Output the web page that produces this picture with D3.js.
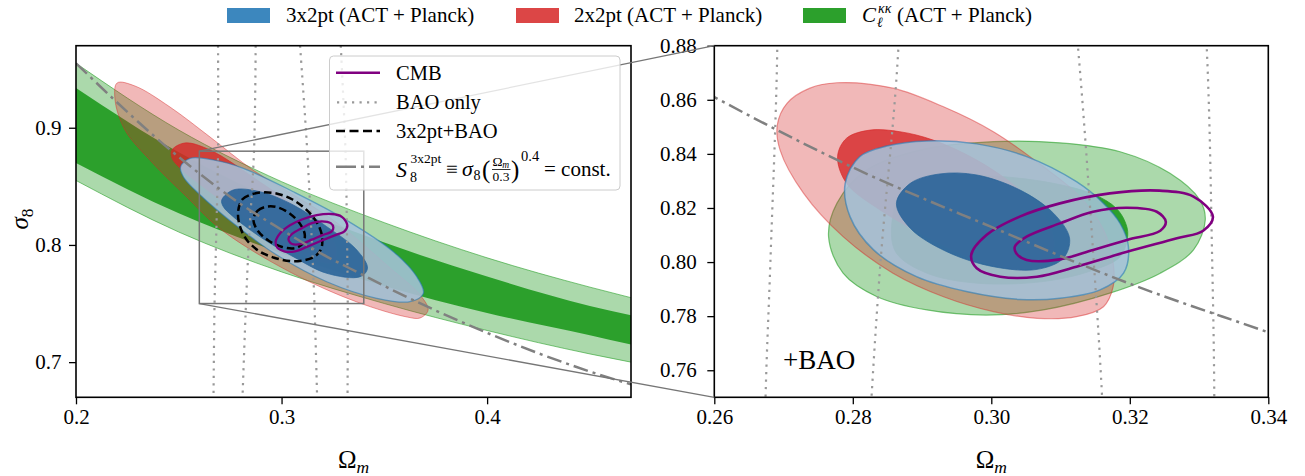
<!DOCTYPE html>
<html><head><meta charset="utf-8">
<script src="https://cdn.jsdelivr.net/npm/d3@7"></script>
<style>
body{margin:0;background:#fff;}
svg text{font-family:"Liberation Serif","Times New Roman","DejaVu Serif",serif !important;}
</style>
</head><body>
<svg id="chart" width="1305" height="476"></svg>
<script>
// ---------------- DATA ----------------
const leftOmDomain = [0.2, 0.47];
const leftSigDomain = [0.67, 0.97];
const insetOmDomain = [0.26, 0.34];
const insetSigDomain = [0.75, 0.88];

const leftXTicks = [0.2, 0.3, 0.4];
const leftYTicks = [0.7, 0.8, 0.9];
const rightXTicks = [0.26, 0.28, 0.30, 0.32, 0.34];
const rightYTicks = [0.76, 0.78, 0.80, 0.82, 0.84, 0.86, 0.88];

const topLegendLabels = ["3x2pt (ACT + Planck)", "2x2pt (ACT + Planck)", "(ACT + Planck)"];
const innerLegendLabels = ["CMB", "BAO only", "3x2pt+BAO", "= const."];

// C_ell^kk (lensing only) band, left panel
const ckkBandOm   = [0.20, 0.25, 0.30, 0.35, 0.40, 0.45, 0.47];
const ckk95Upper  = [0.955, 0.898, 0.854, 0.819, 0.789, 0.764, 0.755];
const ckk68Upper  = [0.934, 0.879, 0.836, 0.802, 0.773, 0.748, 0.740];
const ckk68Lower  = [0.870, 0.827, 0.793, 0.765, 0.742, 0.723, 0.715];
const ckk95Lower  = [0.855, 0.811, 0.777, 0.750, 0.727, 0.707, 0.700];

// 2x2pt (no BAO), left panel  [Omega_m, sigma_8]
const twoPt95 = [[0.2200,0.9382],[0.2287,0.9356],[0.2457,0.9177],[0.2652,0.8921],[0.2861,0.8639],[0.3066,0.8418],[0.3251,0.8213],[0.3528,0.7803],[0.3674,0.7573],[0.3713,0.7445],[0.3674,0.7377],[0.3611,0.7385],[0.3367,0.7513],[0.3041,0.7769],[0.2710,0.8126],[0.2530,0.8425],[0.2360,0.8723],[0.2238,0.8981],[0.2190,0.9237]];
const twoPt68 = [[0.2467,0.8810],[0.2530,0.8870],[0.2652,0.8810],[0.2895,0.8537],[0.3139,0.8233],[0.3260,0.8003],[0.3251,0.7855],[0.3139,0.7889],[0.2895,0.8145],[0.2652,0.8452],[0.2506,0.8656],[0.2467,0.8742]];

// 3x2pt (no BAO), left panel
const threePt95 = [[0.2509,0.8668],[0.2555,0.8739],[0.2668,0.8725],[0.2814,0.8654],[0.3057,0.8454],[0.3301,0.8227],[0.3544,0.7942],[0.3658,0.7729],[0.3690,0.7587],[0.3625,0.7516],[0.3463,0.7545],[0.3220,0.7686],[0.2977,0.7914],[0.2765,0.8185],[0.2603,0.8428],[0.2522,0.8582]];
const threePt68 = [[0.2709,0.8383],[0.2765,0.8469],[0.2895,0.8454],[0.3057,0.8341],[0.3220,0.8156],[0.3366,0.7957],[0.3418,0.7801],[0.3382,0.7729],[0.3220,0.7758],[0.3057,0.7900],[0.2895,0.8070],[0.2765,0.8241],[0.2717,0.8326]];

// +BAO contours (right panel; 3x2pt+BAO also dashed in left panel)
const threePtBAO95 = [[0.2789,0.8291],[0.2810,0.8390],[0.2849,0.8429],[0.2907,0.8448],[0.2979,0.8437],[0.3051,0.8390],[0.3123,0.8297],[0.3162,0.8217],[0.3186,0.8143],[0.3198,0.8057],[0.3191,0.7959],[0.3157,0.7897],[0.3099,0.7866],[0.3041,0.7862],[0.2964,0.7891],[0.2892,0.7946],[0.2830,0.8045],[0.2796,0.8168]];
const threePtBAO68 = [[0.2863,0.8217],[0.2883,0.8291],[0.2926,0.8326],[0.2979,0.8322],[0.3041,0.8267],[0.3090,0.8180],[0.3113,0.8088],[0.3104,0.8014],[0.3066,0.7973],[0.3003,0.7983],[0.2936,0.8038],[0.2883,0.8125]];
const twoPtBAO95 = [[0.2777,0.8663],[0.2858,0.8643],[0.2931,0.8574],[0.3003,0.8482],[0.3075,0.8353],[0.3128,0.8242],[0.3162,0.8119],[0.3176,0.7996],[0.3176,0.7909],[0.3162,0.7835],[0.3123,0.7798],[0.3066,0.7792],[0.3003,0.7817],[0.2931,0.7872],[0.2858,0.7959],[0.2786,0.8094],[0.2729,0.8254],[0.2695,0.8414],[0.2691,0.8507],[0.2705,0.8587],[0.2738,0.8643]];
const twoPtBAO68 = [[0.2778,0.8390],[0.2791,0.8458],[0.2825,0.8488],[0.2868,0.8482],[0.2916,0.8451],[0.2979,0.8377],[0.3041,0.8267],[0.3080,0.8156],[0.3090,0.8057],[0.3075,0.7983],[0.3037,0.7971],[0.2979,0.8008],[0.2907,0.8094],[0.2839,0.8193],[0.2791,0.8291]];
const ckkBAO95 = [[0.2765,0.8094],[0.2777,0.8217],[0.2820,0.8340],[0.2897,0.8414],[0.3003,0.8445],[0.3099,0.8441],[0.3186,0.8408],[0.3258,0.8328],[0.3301,0.8230],[0.3309,0.8156],[0.3292,0.8045],[0.3244,0.7959],[0.3171,0.7885],[0.3075,0.7823],[0.2993,0.7804],[0.2907,0.7823],[0.2835,0.7872],[0.2786,0.7959]];
const ckkBAO68 = [[0.2856,0.8131],[0.2873,0.8267],[0.2931,0.8316],[0.3003,0.8318],[0.3090,0.8291],[0.3150,0.8248],[0.3180,0.8200],[0.3193,0.8150],[0.3197,0.8100],[0.3186,0.8020],[0.3147,0.7970],[0.3075,0.7928],[0.2979,0.7922],[0.2907,0.7959],[0.2863,0.8033]];

// CMB contours
const cmb95 = [[0.2971,0.8026],[0.2993,0.8100],[0.3041,0.8168],[0.3099,0.8217],[0.3171,0.8254],[0.3243,0.8264],[0.3292,0.8242],[0.3320,0.8168],[0.3306,0.8116],[0.3268,0.8088],[0.3196,0.8038],[0.3123,0.7983],[0.3066,0.7946],[0.3013,0.7946],[0.2979,0.7977]];
const cmb68 = [[0.3034,0.8057],[0.3051,0.8094],[0.3099,0.8143],[0.3147,0.8186],[0.3196,0.8201],[0.3239,0.8186],[0.3252,0.8149],[0.3244,0.8116],[0.3196,0.8082],[0.3147,0.8045],[0.3099,0.8010],[0.3051,0.8008],[0.3036,0.8033]];

// BAO-only contour edges: Omega_m at each sigma_8
const baoSigma = [0.97, 0.88, 0.80, 0.75, 0.67];
const baoOuterLeft  = [0.2691, 0.2691, 0.2681, 0.2674, 0.2669];
const baoInnerLeft  = [0.2874, 0.2866, 0.2840, 0.2827, 0.2810];
const baoInnerRight = [0.3090, 0.3125, 0.3148, 0.3160, 0.3173];
const baoOuterRight = [0.3288, 0.3311, 0.3319, 0.3322, 0.3321];

// S8 = const line
const s8Om  = [0.20, 0.25, 0.26, 0.28, 0.30, 0.32, 0.34, 0.35, 0.40, 0.45, 0.47];
const s8Sig = [0.955, 0.875, 0.861, 0.835, 0.813, 0.792, 0.774, 0.765, 0.725, 0.692, 0.681];

// ---------------- STYLE ----------------
const C = {
  blue:"#1f77b4", red:"#d62728", green:"#2ca02c", purple:"#800080",
  blueLight:"#a5c1d9", blueDark:"#2a6499",
  legBlue:"#3c87be", legRed:"#dc4646", legGreen:"#2ca02c",
  gray:"#808080", bao:"#999999"
};
const FONT = "Liberation Serif, Times New Roman, DejaVu Serif, serif";
const BAO_DASH = "2.2,5.3";

const svg = d3.select("#chart");
const defs = svg.append("defs");

const xL = d3.scaleLinear().domain(leftOmDomain).range([76, 631]);
const yL = d3.scaleLinear().domain(leftSigDomain).range([397.3, 45.7]);
const xR = d3.scaleLinear().domain(insetOmDomain).range([714.3, 1268.3]);
const yR = d3.scaleLinear().domain(insetSigDomain).range([397.3, 45.7]);

function clip(id, x, y) {
  defs.append("clipPath").attr("id", id).append("rect")
    .attr("x", x.range()[0]).attr("y", y.range()[1])
    .attr("width", x.range()[1]-x.range()[0]).attr("height", y.range()[0]-y.range()[1]);
}
clip("clipL", xL, yL); clip("clipR", xR, yR);

const closedLine = (x, y) => d3.line().x(d => x(d[0])).y(d => y(d[1])).curve(d3.curveCatmullRomClosed.alpha(0.5));

function contour(g, x, y, pts, fill, fop, stroke, sop, sw) {
  g.append("path").attr("d", closedLine(x, y)(pts))
    .attr("fill", fill).attr("fill-opacity", fop)
    .attr("stroke", stroke).attr("stroke-opacity", sop).attr("stroke-width", sw);
}
function lineOnly(g, x, y, pts, stroke, sw, dash) {
  g.append("path").attr("d", closedLine(x, y)(pts))
    .attr("fill", "none").attr("stroke", stroke).attr("stroke-width", sw)
    .attr("stroke-dasharray", dash || null);
}
function baoLines(g, x, y) {
  [baoOuterLeft, baoInnerLeft, baoInnerRight, baoOuterRight].forEach(arr => {
    const pts = arr.map((om, i) => [om, baoSigma[i]]);
    g.append("path").attr("d", d3.line().x(d => x(d[0])).y(d => y(d[1])).curve(d3.curveCatmullRom)(pts))
      .attr("fill", "none").attr("stroke", C.bao).attr("stroke-width", 2.2)
      .attr("stroke-dasharray", BAO_DASH);
  });
}
function s8Line(g, x, y) {
  const pts = s8Om.map((om, i) => [om, s8Sig[i]]);
  g.append("path").attr("d", d3.line().x(d => x(d[0])).y(d => y(d[1])).curve(d3.curveMonotoneX)(pts))
    .attr("fill", "none").attr("stroke", C.gray).attr("stroke-width", 2.5)
    .attr("stroke-dasharray", "15,5,3,5");
}

// ---------------- LEFT PANEL ----------------
const gL = svg.append("g").attr("clip-path", "url(#clipL)");
const bandArea = (lo, hi) => d3.area().x((d, i) => xL(ckkBandOm[i])).y0((d, i) => yL(lo[i])).y1((d, i) => yL(hi[i])).curve(d3.curveMonotoneX)(ckkBandOm);
const edge = arr => d3.line().x((d, i) => xL(ckkBandOm[i])).y((d, i) => yL(arr[i])).curve(d3.curveMonotoneX)(ckkBandOm);
gL.append("path").attr("d", bandArea(ckk95Lower, ckk95Upper)).attr("fill", C.green).attr("fill-opacity", 0.4);
[ckk95Lower, ckk95Upper].forEach(a => gL.append("path").attr("d", edge(a)).attr("fill", "none").attr("stroke", C.green).attr("stroke-opacity", 0.6).attr("stroke-width", 1));
gL.append("path").attr("d", bandArea(ckk68Lower, ckk68Upper)).attr("fill", C.green).attr("fill-opacity", 1);

contour(gL, xL, yL, twoPt95, C.red, 0.33, C.red, 0.45, 1);
contour(gL, xL, yL, twoPt68, C.red, 0.8, C.red, 0.8, 0.8);
contour(gL, xL, yL, threePt95, C.blueLight, 0.88, C.blue, 0.55, 1.3);
contour(gL, xL, yL, threePt68, C.blueDark, 0.9, C.blueDark, 0.9, 0.8);
baoLines(gL, xL, yL);
lineOnly(gL, xL, yL, threePtBAO95, "#000", 2.5, "7.5,4");
lineOnly(gL, xL, yL, threePtBAO68, "#000", 2.5, "7.5,4");
lineOnly(gL, xL, yL, cmb95, C.purple, 2.3);
lineOnly(gL, xL, yL, cmb68, C.purple, 2.3);
s8Line(gL, xL, yL);

// ---------------- RIGHT PANEL ----------------
const gR = svg.append("g").attr("clip-path", "url(#clipR)");
contour(gR, xR, yR, ckkBAO95, C.green, 0.4, C.green, 0.6, 1.2);
contour(gR, xR, yR, ckkBAO68, C.green, 1, C.green, 1, 0.8);
contour(gR, xR, yR, twoPtBAO95, C.red, 0.33, C.red, 0.45, 1.2);
contour(gR, xR, yR, twoPtBAO68, C.red, 0.8, C.red, 0.8, 0.8);
contour(gR, xR, yR, threePtBAO95, C.blueLight, 0.88, C.blue, 0.55, 1.5);
contour(gR, xR, yR, threePtBAO68, C.blueDark, 0.9, C.blueDark, 0.9, 0.8);
baoLines(gR, xR, yR);
lineOnly(gR, xR, yR, cmb95, C.purple, 2.6);
lineOnly(gR, xR, yR, cmb68, C.purple, 2.6);
s8Line(gR, xR, yR);

gR.append("text").attr("x", 783).attr("y", 369).attr("font-size", 27).attr("font-family", FONT).text("+BAO");

// ---------------- AXES ----------------
function axes(x, y, xt, yt, fmt, ypad) {
  const g = svg.append("g");
  const ax = g.append("g").attr("transform", `translate(0,${y.range()[0]})`)
    .call(d3.axisBottom(x).tickValues(xt).tickFormat(d3.format(fmt)).tickSize(7).tickPadding(5));
  const ay = g.append("g").attr("transform", `translate(${x.range()[0]},0)`)
    .call(d3.axisLeft(y).tickValues(yt).tickFormat(d3.format(fmt)).tickSize(7).tickPadding(ypad));
  [ax, ay].forEach(a => {
    a.select(".domain").remove();
    a.attr("font-size", 21).attr("font-family", FONT);
    a.selectAll("line").attr("stroke", "#000").attr("stroke-width", 1.3);
    a.selectAll("text").attr("fill", "#000");
  });
  g.append("rect").attr("x", x.range()[0]).attr("y", y.range()[1])
    .attr("width", x.range()[1]-x.range()[0]).attr("height", y.range()[0]-y.range()[1])
    .attr("fill", "none").attr("stroke", "#000").attr("stroke-width", 1.6);
}
axes(xL, yL, leftXTicks, leftYTicks, ".1f", 7.5);
axes(xR, yR, rightXTicks, rightYTicks, ".2f", 10.5);

// axis labels
function omLabel(cx) {
  const t = svg.append("text").attr("x", cx).attr("y", 468).attr("text-anchor", "middle")
    .attr("font-family", FONT).attr("font-size", 25);
  t.append("tspan").text("Ω");
  t.append("tspan").attr("font-style", "italic").attr("font-size", 17.5).attr("dy", 5).text("m");
}
omLabel((xL.range()[0]+xL.range()[1])/2);
omLabel((xR.range()[0]+xR.range()[1])/2);
{
  const t = svg.append("text").attr("transform", "translate(28,219) rotate(-90)").attr("text-anchor", "middle")
    .attr("font-family", FONT).attr("font-size", 25);
  t.append("tspan").attr("font-style", "italic").text("σ");
  t.append("tspan").attr("font-size", 17.5).attr("dy", 5).text("8");
}

// inset box + connectors
const gI = svg.append("g");
gI.append("rect").attr("x", xL(insetOmDomain[0])).attr("y", yL(insetSigDomain[1]))
  .attr("width", xL(insetOmDomain[1]) - xL(insetOmDomain[0]))
  .attr("height", yL(insetSigDomain[0]) - yL(insetSigDomain[1]))
  .attr("fill", "none").attr("stroke", "#767676").attr("stroke-width", 1.5);
gI.append("line").attr("x1", xL(insetOmDomain[0])).attr("y1", yL(insetSigDomain[1]))
  .attr("x2", xR(insetOmDomain[0])).attr("y2", yR(insetSigDomain[1]))
  .attr("stroke", "#767676").attr("stroke-width", 1.3);
gI.append("line").attr("x1", xL(insetOmDomain[0])).attr("y1", yL(insetSigDomain[0]))
  .attr("x2", xR(insetOmDomain[0])).attr("y2", yR(insetSigDomain[0]))
  .attr("stroke", "#767676").attr("stroke-width", 1.3);

// ---------------- INNER LEGEND ----------------
const gLeg = svg.append("g").attr("font-family", FONT).attr("font-size", 20.5);
gLeg.append("rect").attr("x", 329.5).attr("y", 56).attr("width", 290.5).attr("height", 134).attr("rx", 4)
  .attr("fill", "#fff").attr("fill-opacity", 0.8).attr("stroke", "#cccccc").attr("stroke-width", 1);
const rowsY = [72.7, 102.3, 131, 166.7];
gLeg.append("line").attr("x1", 336).attr("x2", 380).attr("y1", rowsY[0]).attr("y2", rowsY[0]).attr("stroke", C.purple).attr("stroke-width", 2.6);
gLeg.append("line").attr("x1", 337).attr("x2", 380).attr("y1", rowsY[1]).attr("y2", rowsY[1]).attr("stroke", C.bao).attr("stroke-width", 2.2).attr("stroke-dasharray", BAO_DASH);
gLeg.append("line").attr("x1", 336).attr("x2", 380).attr("y1", rowsY[2]).attr("y2", rowsY[2]).attr("stroke", "#000").attr("stroke-width", 2.5).attr("stroke-dasharray", "9,4.5");
gLeg.append("line").attr("x1", 336).attr("x2", 380).attr("y1", rowsY[3]).attr("y2", rowsY[3]).attr("stroke", C.gray).attr("stroke-width", 2.5).attr("stroke-dasharray", "20,5,3,5");
for (let i = 0; i < 3; i++) gLeg.append("text").attr("x", 396).attr("y", rowsY[i] + 7).text(innerLegendLabels[i]);
// S8 formula
const fml = (x, y, txt, size, italic) => gLeg.append("text").attr("x", x).attr("y", y).attr("font-size", size)
  .attr("font-style", italic ? "italic" : null).text(txt);
fml(396, 177, "S", 22, true);
fml(410.5, 162.5, "3x2pt", 13.5, false);
fml(410, 182, "8", 14, false);
fml(446, 176, "≡", 21, false);
fml(462, 176, "σ", 22, true);
fml(473.5, 180, "8", 14, false);
fml(482, 177.5, "(", 25, false);
fml(492.5, 166, "Ω", 13.5, false);
fml(502.3, 168.3, "m", 9.5, true);
gLeg.append("line").attr("x1", 492).attr("x2", 510.5).attr("y1", 169.5).attr("y2", 169.5).attr("stroke", "#000").attr("stroke-width", 0.8);
fml(492.5, 180.5, "0.3", 13.5, false);
fml(511, 177.5, ")", 25, false);
fml(521, 161, "0.4", 14.5, false);
fml(544, 176, innerLegendLabels[3], 21, false);

// ---------------- TOP LEGEND ----------------
const gTop = svg.append("g").attr("font-family", FONT).attr("font-size", 21);
const patchX = [227, 516, 803];
const patchCol = [C.legBlue, C.legRed, C.legGreen];
const textX = [286, 574, 897];
patchX.forEach((px, i) => {
  gTop.append("rect").attr("x", px).attr("y", 8).attr("width", 43).attr("height", 15).attr("fill", patchCol[i]);
  gTop.append("text").attr("x", textX[i]).attr("y", 22).text(topLegendLabels[i]);
});
gTop.append("text").attr("x", 862).attr("y", 22).attr("font-style", "italic").text("C");
gTop.append("text").attr("x", 877).attr("y", 27).attr("font-style", "italic").attr("font-size", 14).text("ℓ");
gTop.append("text").attr("x", 878).attr("y", 13).attr("font-style", "italic").attr("font-size", 14).text("κκ");
</script>
</body></html>
